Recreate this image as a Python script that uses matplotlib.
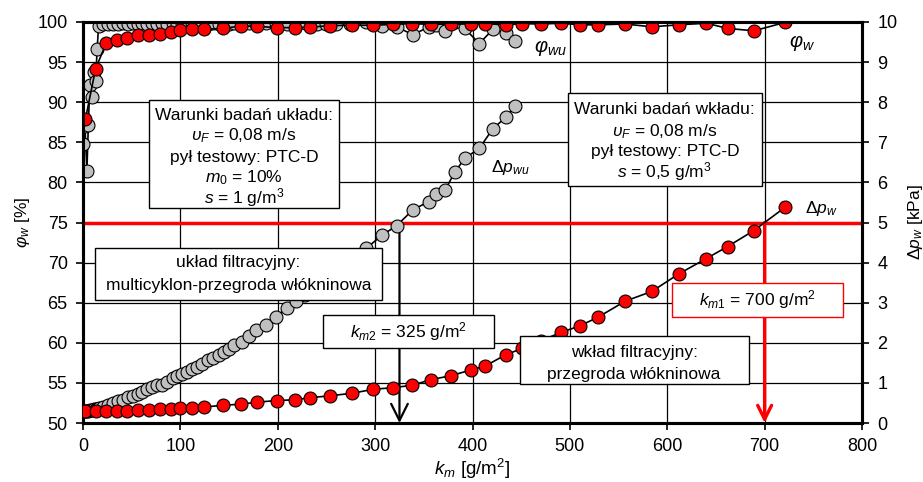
import numpy as np
import matplotlib
matplotlib.use("Agg")
import matplotlib.pyplot as plt
from matplotlib.patches import Rectangle

plt.rcParams['font.family'] = ['Liberation Sans', 'DejaVu Sans']
plt.rcParams['mathtext.fontset'] = 'custom'
plt.rcParams['mathtext.rm'] = 'Liberation Sans'
plt.rcParams['mathtext.it'] = 'Liberation Sans:italic'
plt.rcParams['mathtext.bf'] = 'Liberation Sans:bold'

# multicyclone + nonwoven system (gray)
km_wu = [0.5, 2, 4, 5.5, 7, 9, 11, 13, 14.5, 16, 21, 26, 31, 36, 41, 46, 51, 56, 61,
         66, 71, 76, 81, 86, 92, 97, 102, 107, 112, 117, 122, 128, 134, 140, 145,
         150, 155, 163, 170, 178, 188, 198, 209, 219, 228, 240, 250, 260, 274, 291,
         307, 322, 339, 355, 363, 372, 382, 392, 407, 421, 434, 444]
phi_wu = [84.8, 87.0, 81.4, 87.2, 92.1, 90.6, 93.8, 92.7, 96.6, 99.5, 99.7, 99.8, 99.8,
          99.8, 99.9, 99.8, 99.9, 99.8, 99.9, 99.8, 99.9, 99.8, 99.9, 99.8, 99.9, 99.8,
          99.9, 99.8, 99.9, 99.8, 99.9, 99.8, 99.9, 99.8, 99.9, 99.8, 99.9, 99.8, 99.9,
          99.8, 99.9, 99.9, 99.8, 100.0, 99.9, 99.8, 99.8, 99.7, 99.8, 100.0,
          99.5, 99.4, 98.4, 99.4, 99.6, 98.9, 100.0, 99.2, 97.3, 99.1, 98.6, 97.6]
dp_wu = [0.30, 0.30, 0.31, 0.31, 0.32, 0.33, 0.34, 0.35, 0.36, 0.37, 0.40, 0.45, 0.50,
         0.54, 0.58, 0.64, 0.68, 0.72, 0.78, 0.84, 0.90, 0.94, 0.96, 1.02, 1.12, 1.16,
         1.22, 1.28, 1.34, 1.40, 1.48, 1.56, 1.62, 1.70, 1.76, 1.84, 1.94, 2.02, 2.16,
         2.32, 2.44, 2.64, 2.88, 3.04, 3.20, 3.40, 3.58, 3.76, 4.02, 4.36,
         4.68, 4.92, 5.32, 5.52, 5.72, 5.82, 6.26, 6.60, 6.85, 7.34, 7.62, 7.90]

# nonwoven insert only (red)
km_w = [0, 2.5, 13, 24, 35, 45, 56, 68, 79, 90, 100, 112, 124, 144, 162, 179, 199,
        218, 233, 254, 276, 298, 318, 338, 357, 378, 398, 413, 434, 451, 470, 491,
        510, 529, 557, 584, 612, 640, 662, 689, 721]
phi_w = [np.nan, 87.9, 94.2, 97.4, 97.8, 98.0, 98.4, 98.4, 98.5, 98.7, 99.0, 99.1,
         99.1, 99.2, 99.5, 99.45, 99.3, 99.3, 99.35, 99.55, 99.6, 99.6, 99.7, 99.8,
         99.7, 99.75, 99.75, 99.8, 99.65, 99.8, 99.75, 99.85, 99.65, 99.65, 99.75,
         99.4, 99.65, 99.85, 99.2, 98.9, 99.95]
dp_w = [0.30, 0.30, 0.30, 0.31, 0.31, 0.31, 0.33, 0.33, 0.35, 0.36, 0.37, 0.38, 0.40,
        0.44, 0.47, 0.52, 0.56, 0.58, 0.63, 0.68, 0.74, 0.84, 0.88, 0.94, 1.08, 1.18,
        1.32, 1.42, 1.70, 1.86, 2.05, 2.26, 2.42, 2.64, 3.04, 3.28, 3.72, 4.10, 4.40,
        4.80, 5.38]

dp_limit = 5.0
km_m2 = 325
km_m1 = 700

FS = 12.5
GRAY = '#c0c0c0'
RED = '#ff0000'

fig = plt.figure(figsize=(9.23, 4.82), dpi=100)
ax = fig.add_axes([83 / 923, 59 / 482, 779 / 923, 401 / 482])
ax2 = ax.twinx()

ax.set_xlim(0, 800)
ax.set_ylim(50, 100)
ax2.set_ylim(0, 10)
ax.set_xticks(range(0, 801, 100))
ax.set_yticks(range(50, 101, 5))
ax2.set_yticks(range(0, 11, 1))
ax.grid(True, color='black', lw=0.9)
ax.set_axisbelow(True)

for a in (ax, ax2):
    for s in a.spines.values():
        s.set_linewidth(2.2)
    a.tick_params(direction='out', length=5, width=1.2, labelsize=FS + 0.5, pad=6)

mk = dict(marker='o', ms=9.3, mec='black', mew=0.8, color='black', lw=1.2)
ax.plot(km_wu, phi_wu, mfc=GRAY, zorder=3, **mk)
ax.plot(km_w, phi_w, mfc=RED, zorder=4, **mk)

ax2.axhline(dp_limit, color=RED, lw=2.5, zorder=1)
ax2.plot(km_wu, dp_wu, mfc=GRAY, zorder=3, **mk)
ax2.plot(km_w, dp_w, mfc=RED, zorder=3, **mk)

ax2.annotate('', xy=(km_m2, 0), xytext=(km_m2, dp_limit),
             arrowprops=dict(arrowstyle='->,head_length=1.2,head_width=0.6',
                             color='black', lw=1.6, shrinkA=0, shrinkB=0), zorder=2)
ax2.annotate('', xy=(km_m1, 0), xytext=(km_m1, dp_limit),
             arrowprops=dict(arrowstyle='->,head_length=1.0,head_width=0.5',
                             color=RED, lw=2.4, shrinkA=0, shrinkB=0), zorder=2)


def box(x0, x1, y0, y1, ec='black'):
    ax2.add_patch(Rectangle((x0, y0), x1 - x0, y1 - y0, fc='white', ec=ec,
                            lw=1.0, zorder=6))


def txt(x, y, s):
    ax2.text(x, y, s, ha='center', va='center', fontsize=FS, zorder=7)


box(67.8, 262.8, 5.36, 8.05)
txt(165.3, 7.68, 'Warunki badań układu:')
txt(165.3, 7.16, r'$\upsilon_F$ = 0,08 m/s')
txt(165.3, 6.63, 'pył testowy: PTC-D')
txt(165.3, 6.11, r'$m_0$ = 10%')
txt(165.3, 5.62, r'$s$ = 1 g/m$^3$')

box(498, 697, 5.91, 8.23)
txt(597.5, 7.81, 'Warunki badań wkładu:')
txt(597.5, 7.26, r'$\upsilon_F$ = 0,08 m/s')
txt(597.5, 6.76, 'pył testowy: PTC-D')
txt(597.5, 6.26, r'$s$ = 0,5 g/m$^3$')

box(12.3, 307, 3.07, 4.36)
txt(159.7, 4.01, 'układ filtracyjny:')
txt(159.7, 3.42, 'multicyklon-przegroda włókninowa')

box(246, 422, 1.87, 2.69)
txt(334, 2.29, r'$k_{m2}$ = 325 g/m$^2$')

box(448.6, 683.8, 0.97, 2.17)
txt(566, 1.77, 'wkład filtracyjny:')
txt(566, 1.22, 'przegroda włókninowa')

box(604.7, 780, 2.64, 3.49, ec=RED)
txt(692.5, 3.07, r'$k_{m1}$ = 700 g/m$^2$')

ax2.text(480, 9.35, r'$\varphi_{wu}$', ha='center', va='center', fontsize=FS + 2)
ax2.text(738, 9.48, r'$\varphi_{w}$', ha='center', va='center', fontsize=FS + 2)
ax2.text(439, 6.38, r'$\Delta p_{wu}$', ha='center', va='center', fontsize=FS)
ax2.text(758, 5.36, r'$\Delta p_{w}$', ha='center', va='center', fontsize=FS)

ax.set_xlabel(r'$k_m$ [g/m$^2$]', fontsize=FS + 1, labelpad=1)
ax.set_ylabel(r'$\varphi_w$ [%]', fontsize=FS, labelpad=4)
ax2.set_ylabel(r'$\Delta p_w$ [kPa]', fontsize=FS, labelpad=6)

fig.savefig('out.png', dpi=100)
